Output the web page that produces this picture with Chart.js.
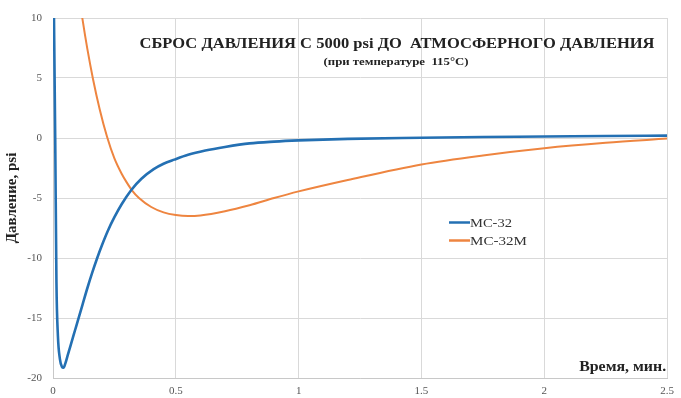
<!DOCTYPE html>
<html>
<head>
<meta charset="utf-8">
<script src="https://cdn.jsdelivr.net/npm/chart.js@4.4.1/dist/chart.umd.min.js"></script>
<style>
  html, body { margin: 0; padding: 0; background: #fff; }
  #wrap { width: 681px; height: 398px; position: relative; }
</style>
</head>
<body>
<div id="wrap"><canvas id="chart"></canvas></div>
<script>
// time, min
var mc32Time = [0.003, 0.009, 0.014, 0.02, 0.028, 0.036, 0.043, 0.05, 0.06, 0.07, 0.08, 0.09, 0.1, 0.12, 0.14, 0.16, 0.18, 0.2, 0.223, 0.25, 0.28, 0.318, 0.36, 0.41, 0.45, 0.494, 0.55, 0.62, 0.7, 0.8, 0.9, 1.0, 1.2, 1.5, 1.75, 2.0, 2.25, 2.5];
var mc32Pressure = [12, 0, -12, -16.5, -18.4, -19.05, -19.15, -18.8, -18.1, -17.4, -16.7, -16.0, -15.3, -13.9, -12.5, -11.2, -10.0, -8.9, -7.75, -6.6, -5.5, -4.35, -3.4, -2.6, -2.15, -1.8, -1.4, -1.05, -0.75, -0.45, -0.3, -0.2, -0.07, 0.02, 0.08, 0.12, 0.17, 0.2];

var mc32mTime = [0.11, 0.12, 0.14, 0.163, 0.19, 0.22, 0.25, 0.28, 0.3, 0.323, 0.35, 0.4, 0.45, 0.5, 0.55, 0.6, 0.7, 0.8, 0.9, 1.0, 1.2, 1.5, 1.75, 2.0, 2.25, 2.5];
var mc32mPressure = [11.3, 9.9, 7.4, 4.9, 2.4, 0.1, -1.7, -3.0, -3.7, -4.4, -5.0, -5.75, -6.2, -6.42, -6.5, -6.45, -6.1, -5.6, -5.0, -4.45, -3.5, -2.2, -1.45, -0.85, -0.4, -0.05];

var seriesNames = ['MC-32', 'MC-32M'];
var seriesColors = ['#2470b3', '#ee8540'];
var xTicks = [0, 0.5, 1, 1.5, 2, 2.5];
var yTicks = [-20, -15, -10, -5, 0, 5, 10];

var chartTitle = 'СБРОС ДАВЛЕНИЯ С 5000 psi ДО  АТМОСФЕРНОГО ДАВЛЕНИЯ';
var chartSubtitle = '(при температуре  115°С)';
var xTitle = 'Время, мин.';
var yTitle = 'Давление, psi';

function toPoints(xs, ys) {
  var pts = [];
  for (var i = 0; i < xs.length; i++) pts.push({x: xs[i], y: ys[i]});
  return pts;
}

var serif = '"Liberation Serif", "DejaVu Serif", serif';

// draw text squeezed/stretched to a given width (scanned original is wide)
function fitText(ctx, text, x, y, width, align) {
  var w = ctx.measureText(text).width;
  var k = width / w;
  ctx.save();
  ctx.translate(x, y);
  ctx.scale(k, 1);
  ctx.textAlign = align;
  ctx.fillText(text, 0, 0);
  ctx.restore();
}

var textPlugin = {
  id: 'texts',
  afterDraw: function (chart) {
    var ctx = chart.ctx;
    var a = chart.chartArea;
    ctx.save();
    ctx.fillStyle = '#222';
    ctx.textBaseline = 'middle';
    ctx.font = 'bold 15px ' + serif;
    fitText(ctx, chartTitle, 397, 44, 515, 'center');
    ctx.font = 'bold 10px ' + serif;
    fitText(ctx, chartSubtitle, 396, 62, 145, 'center');

    ctx.font = 'bold 14px ' + serif;
    fitText(ctx, xTitle, a.right - 1, 367, 87, 'right');

    // legend
    ctx.font = '12px ' + serif;
    var ly = [222.5, 240.5];
    var lw = [42, 57];
    for (var i = 0; i < seriesNames.length; i++) {
      ctx.strokeStyle = seriesColors[i];
      ctx.lineWidth = 2.5;
      ctx.beginPath();
      ctx.moveTo(449, ly[i]);
      ctx.lineTo(470, ly[i]);
      ctx.stroke();
      ctx.fillStyle = '#333';
      fitText(ctx, seriesNames[i], 470, ly[i] + 1, lw[i], 'left');
    }
    ctx.restore();
  }
};

new Chart(document.getElementById('chart'), {
  type: 'line',
  data: {
    datasets: [{
      label: seriesNames[0],
      data: toPoints(mc32Time, mc32Pressure),
      borderColor: seriesColors[0],
      borderWidth: 2.6,
      pointRadius: 0,
      cubicInterpolationMode: 'monotone'
    }, {
      label: seriesNames[1],
      data: toPoints(mc32mTime, mc32mPressure),
      borderColor: seriesColors[1],
      borderWidth: 2,
      pointRadius: 0,
      cubicInterpolationMode: 'monotone'
    }]
  },
  options: {
    responsive: true,
    maintainAspectRatio: false,
    animation: false,
    layout: { padding: { top: 18, right: 9, left: 0, bottom: 0 } },
    plugins: {
      legend: { display: false },
      tooltip: { enabled: false }
    },
    scales: {
      x: {
        type: 'linear',
        min: 0, max: 2.5,
        afterBuildTicks: function (s) { s.ticks = xTicks.map(function (v) { return {value: v}; }); },
        afterFit: function (s) { s.height = 20; },
        grid: { color: '#d9d9d9', drawTicks: false },
        border: { color: '#c8c8c8' },
        ticks: {
          padding: 7, color: '#555', font: { family: serif, size: 11 },
          callback: function (v) { return String(v); }
        }
      },
      y: {
        min: -20, max: 10,
        afterBuildTicks: function (s) { s.ticks = yTicks.map(function (v) { return {value: v}; }); },
        afterFit: function (s) { s.width = 53; },
        grid: { color: '#d9d9d9', drawTicks: false },
        border: { color: '#c8c8c8' },
        ticks: { padding: 11, color: '#555', font: { family: serif, size: 11 } },
        title: {
          display: true,
          text: yTitle,
          color: '#222',
          padding: { top: 3, bottom: 0 },
          font: { family: serif, size: 15, weight: 'bold' }
        }
      }
    }
  },
  plugins: [textPlugin]
});
</script>
</body>
</html>
